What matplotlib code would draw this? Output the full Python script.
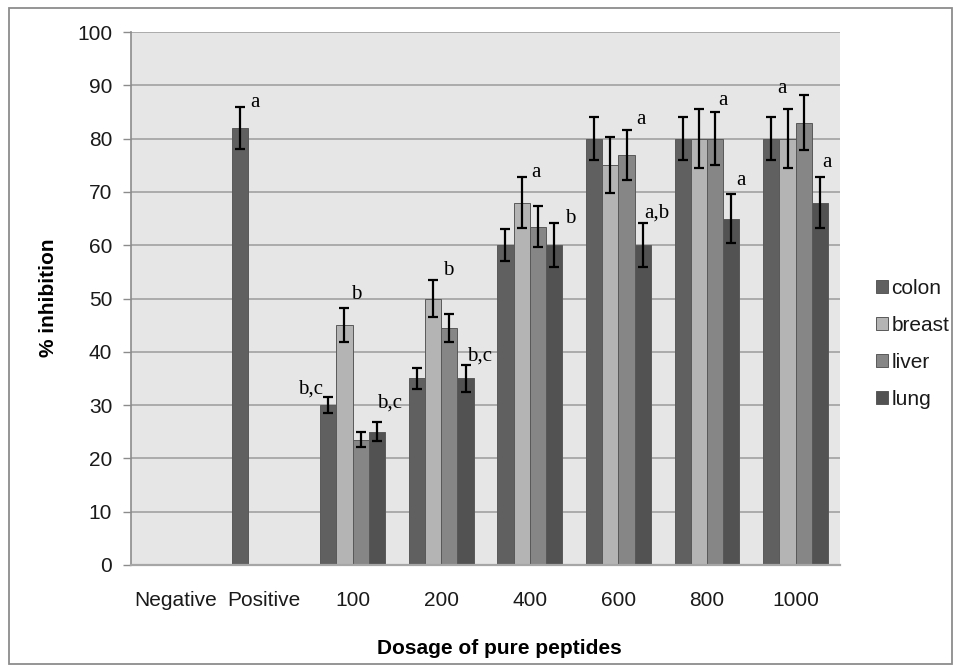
import matplotlib
matplotlib.use("Agg")
import matplotlib.pyplot as plt
import numpy as np
from matplotlib.patches import Rectangle

nan = np.nan

# Dose groups on the x axis
categories = ["Negative", "Positive", "100", "200", "400", "600", "800", "1000"]
series_names = ["colon", "breast", "liver", "lung"]

# % inhibition (mean) and error per cell line
colon = [nan, 82, 30, 35, 60, 80, 80, 80]
colon_err = [nan, 4.0, 1.5, 1.9, 3.0, 4.0, 4.0, 4.0]
breast = [nan, nan, 45, 50, 68, 75, 80, 80]
breast_err = [nan, nan, 3.2, 3.4, 4.75, 5.3, 5.6, 5.6]
liver = [nan, nan, 23.5, 44.5, 63.5, 77, 80, 83]
liver_err = [nan, nan, 1.4, 2.65, 3.9, 4.7, 4.9, 5.1]
lung = [nan, nan, 25, 35, 60, 60, 65, 68]
lung_err = [nan, nan, 1.8, 2.6, 4.1, 4.1, 4.6, 4.8]

# Significance letters: (group index, series index, letter)
letters = [
    (1, 0, "a"),
    (2, 0, "b,c"),
    (2, 1, "b"),
    (2, 3, "b,c"),
    (3, 1, "b"),
    (3, 3, "b,c"),
    (4, 1, "a"),
    (4, 3, "b"),
    (5, 2, "a"),
    (5, 3, "a,b"),
    (6, 2, "a"),
    (6, 3, "a"),
    (7, 2, "a"),
    (7, 3, "a"),
]
# Placement of each letter relative to the top of its error bar (pixels)
letter_offsets = [
    (10.5, 0, "left"),
    (-5.5, 4, "right"),
    (7, 9, "left"),
    (0, 15, "left"),
    (10, 5, "left"),
    (1.5, 4, "left"),
    (10, 0, "left"),
    (11, 0, "left"),
    (9.5, 6, "left"),
    (1, 6, "left"),
    (3, 7, "left"),
    (4.5, 9, "left"),
    (-17, 2, "right"),
    (2, 10, "left"),
]

values = [colon, breast, liver, lung]
errors = [colon_err, breast_err, liver_err, lung_err]
colors = ["#606060", "#b4b4b4", "#868686", "#525252"]

SANS = ["Liberation Sans", "DejaVu Sans"]
SERIF = ["Liberation Serif", "DejaVu Serif"]

fig = plt.figure(figsize=(9.61, 6.72), dpi=100)
W, H = 961, 672
ax = fig.add_axes([131 / W, 1 - 565 / H, (840 - 131) / W, (565 - 32) / H])
ax.set_facecolor("#e6e6e6")

x = np.arange(len(categories))
bw = 0.183
bars = []
for i, (vals, errs, col, name) in enumerate(zip(values, errors, colors, series_names)):
    pos = x + (i - 1.5) * bw
    b = ax.bar(pos, vals, width=bw, color=col, edgecolor="#595959", linewidth=0.7,
               label=name, zorder=2,
               yerr=errs, error_kw=dict(ecolor="black", elinewidth=1.6, capsize=3.4,
                                        capthick=1.6, zorder=3))
    bars.append(b)

for (gi, si, txt), (dx, dy, ha) in zip(letters, letter_offsets):
    bx = x[gi] + (si - 1.5) * bw
    by = values[si][gi] + errors[si][gi]
    ax.annotate(txt, xy=(bx, by), xytext=(dx * 0.72, dy * 0.72),
                textcoords="offset points", ha=ha, va="baseline",
                fontsize=15, family=SERIF, color="black", zorder=4)

ax.set_xlim(-0.5, len(categories) - 0.5)
ax.set_ylim(0, 100)
ax.set_yticks(np.arange(0, 101, 10))
ax.set_xticks(x)
ax.set_xticklabels(categories)
ax.yaxis.grid(True, color="#a6a6a6", linewidth=1.3, zorder=0)
ax.set_axisbelow(True)

for side in ["top", "right"]:
    ax.spines[side].set_visible(False)
ax.spines["left"].set_color("#8c8c8c")
ax.spines["left"].set_linewidth(1.2)
ax.spines["bottom"].set_color("#a6a6a6")
ax.spines["bottom"].set_linewidth(1.6)

ax.tick_params(axis="y", length=5.5, width=1.0, color="#8c8c8c", pad=8, labelsize=15)
ax.tick_params(axis="x", length=0, pad=19, labelsize=15)
for lab in ax.get_xticklabels() + ax.get_yticklabels():
    lab.set_family(SANS)
    lab.set_color("#1a1a1a")

fig.text(49 / W, 1 - 298 / H, "% inhibition", rotation=90, ha="center", va="center",
         fontsize=15, fontweight="bold", family=SANS)
fig.text(499 / W, 1 - 648 / H, "Dosage of pure peptides", ha="center", va="center",
         fontsize=15, fontweight="bold", family=SANS)

leg = fig.legend(bars, series_names, loc="center left",
                 bbox_to_anchor=(868 / W, 1 - 344 / H), frameon=False,
                 handlelength=0.55, handleheight=0.55, handletextpad=0.18,
                 labelspacing=0.86, borderaxespad=0,
                 prop=dict(family=SANS, size=15))
for t in leg.get_texts():
    t.set_color("#1a1a1a")

# Outer chart border
fig.patches.append(Rectangle((9 / W, 1 - 664 / H), (952 - 9) / W, (664 - 8) / H,
                             transform=fig.transFigure, fill=False,
                             edgecolor="#8c8c8c", linewidth=1.3))

fig.savefig("out.png", dpi=100)
